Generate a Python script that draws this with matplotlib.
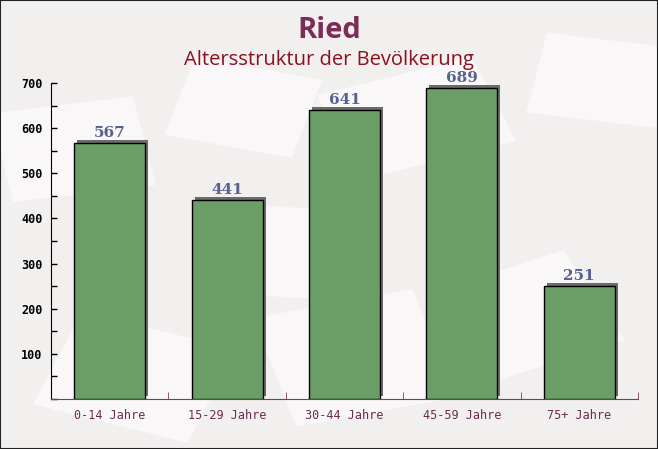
import numpy as np
import matplotlib
matplotlib.use("Agg")
import matplotlib.pyplot as plt
from matplotlib import transforms
from matplotlib.patches import Rectangle
from matplotlib.ticker import MultipleLocator

categories = ["0-14 Jahre", "15-29 Jahre", "30-44 Jahre", "45-59 Jahre", "75+ Jahre"]
values = [567, 441, 641, 689, 251]
yticks = [100, 200, 300, 400, 500, 600, 700]

BG = "#f2efef"
GREEN = "#6a9e66"
SHADOW = "#6b6b6b"
TITLE = "#7b2d57"
SUB = "#8b1020"
VAL = "#56628f"
XLAB = "#6b2d4f"

fig = plt.figure(figsize=(6.58, 4.49), dpi=100)
fig.patch.set_facecolor(BG)

# faint envelope-like background shapes, behind everything
bg = fig.add_axes([0, 0, 1, 1], zorder=-1)
bg.axis("off")
bg.set_xlim(0, 1); bg.set_ylim(0, 1)
for (x0, y0, w, h, ang) in [(0.02, 0.55, 0.22, 0.2, 10), (0.25, 0.7, 0.2, 0.18, -15),
                            (0.55, 0.6, 0.25, 0.2, 20), (0.8, 0.75, 0.2, 0.18, -10),
                            (0.05, 0.1, 0.25, 0.22, -20), (0.45, 0.05, 0.25, 0.25, 15),
                            (0.75, 0.15, 0.22, 0.22, 25), (0.3, 0.35, 0.2, 0.2, -5)]:
    bg.add_patch(Rectangle((x0, y0), w, h, angle=ang, facecolor="white",
                           alpha=0.55, edgecolor="none"))

ax = fig.add_axes([51 / 658, 50 / 449, 587 / 658, 316 / 449])
ax.set_facecolor("none")

x = np.arange(len(categories))
width = 0.605
shadow_tr = transforms.offset_copy(ax.transData, fig=fig, x=3, y=3, units="dots")
ax.bar(x, values, width=width, color=SHADOW, transform=shadow_tr, zorder=2)
ax.bar(x, values, width=width, color=GREEN, edgecolor="black", linewidth=1, zorder=3)

for xi, v in zip(x, values):
    ax.annotate(str(v), (xi, v), xytext=(0, 2), textcoords="offset points",
                ha="center", va="bottom", fontsize=11, fontweight="bold",
                family="DejaVu Serif", color=VAL, clip_on=False, zorder=4)

ax.set_xlim(-0.5, len(categories) - 0.5)
ax.set_ylim(0, 700)
ax.set_yticks(yticks)
ax.yaxis.set_minor_locator(MultipleLocator(50))
ax.set_xticks(x)
ax.set_xticklabels(categories)
ax.set_xticks(np.arange(len(categories)) + 0.5, minor=True)

for s in ["top", "right"]:
    ax.spines[s].set_visible(False)
ax.spines["left"].set_color("black")
ax.spines["bottom"].set_color("#7a3b5e")

ax.tick_params(axis="y", which="both", direction="in", length=4, width=1,
               labelsize=8.5, colors="black", pad=6)
ax.tick_params(axis="x", which="major", length=0, pad=7, labelsize=8.5, labelcolor=XLAB)
ax.tick_params(axis="x", which="minor", direction="in", length=5, color="#7a3b5e")
for lab in ax.get_yticklabels():
    lab.set_family("DejaVu Sans Mono")
    lab.set_fontweight("bold")
for lab in ax.get_xticklabels():
    lab.set_family("DejaVu Sans Mono")

fig.text(0.5, 1 - 30 / 449, "Ried", ha="center", va="center", fontsize=21,
         fontweight="bold", family="Open Sans", color=TITLE)
fig.text(0.5, 1 - 60 / 449, "Altersstruktur der Bevölkerung", ha="center", va="center",
         fontsize=14.5, family="Open Sans", color=SUB)

fig.patches.append(Rectangle((0, 0), 1, 1, transform=fig.transFigure, fill=False,
                             edgecolor="#222222", linewidth=1.5, zorder=10))

fig.savefig("out.png", dpi=100, facecolor=BG)
